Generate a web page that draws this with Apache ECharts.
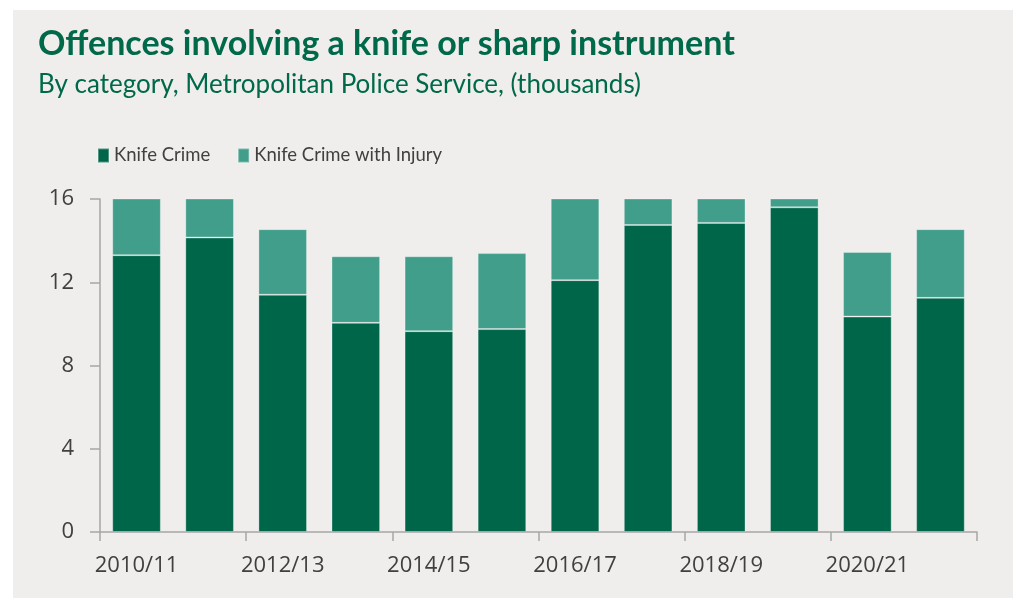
<!DOCTYPE html>
<html>
<head>
<meta charset="utf-8">
<style>
  html, body { margin: 0; padding: 0; background: #ffffff; }
  #chart { width: 1016px; height: 598px; }
</style>
<script src="https://cdn.jsdelivr.net/npm/echarts@6/dist/echarts.min.js"></script>
</head>
<body>
<div id="chart"></div>
<script>
// Financial years
const categories = ['2010/11', '2011/12', '2012/13', '2013/14', '2014/15', '2015/16',
                    '2016/17', '2017/18', '2018/19', '2019/20', '2020/21', '2021/22'];
// Offences, thousands
const knifeCrime = [13.3, 14.15, 11.4, 10.05, 9.65, 9.75, 12.1, 14.75, 14.85, 15.6, 10.35, 11.25];
const knifeCrimeInjury = [4.3, 4.2, 3.15, 3.2, 3.6, 3.65, 4.4, 4.5, 4.6, 4.4, 3.1, 3.3];
const yTicks = [0, 4, 8, 12, 16];

const DARK = '#00664a';
const TEAL = '#409e8a';
const TEXT = '#404040';
const AXIS = '#a6a6a6';

const chart = echarts.init(document.getElementById('chart'), null, { renderer: 'canvas' });

chart.setOption({
  backgroundColor: '#ffffff',
  animation: false,
  graphic: [
    { type: 'rect', z: -10, silent: true,
      shape: { x: 13, y: 10, width: 1000, height: 588 },
      style: { fill: '#efeeec' } },
    { type: 'text', left: 38, top: 27,
      style: { text: 'Offences involving a knife or sharp instrument',
               font: 'bold 34px Lato', fill: '#00694a' } },
    { type: 'text', left: 38, top: 72,
      style: { text: 'By category, Metropolitan Police Service, (thousands)',
               font: '26px Lato', fill: '#00694a' } }
  ],
  legend: {
    left: 92, top: 141,
    itemWidth: 11, itemHeight: 14, itemGap: 27,
    icon: 'rect',
    textStyle: { fontFamily: 'Lato', fontSize: 18.5, color: TEXT },
    data: ['Knife Crime', 'Knife Crime with Injury']
  },
  grid: { left: 100, right: 39, top: 199, bottom: 66, containLabel: false },
  xAxis: {
    type: 'category',
    data: categories,
    axisLine: { lineStyle: { color: AXIS, width: 1.5 } },
    axisTick: { show: true, length: 9, lineStyle: { color: AXIS, width: 1.5 } },
    axisLabel: { interval: 1, margin: 23, color: TEXT, fontFamily: 'Open Sans', fontSize: 22 }
  },
  yAxis: {
    type: 'value',
    min: yTicks[0], max: yTicks[yTicks.length - 1], interval: 4,
    axisLine: { show: true, lineStyle: { color: AXIS, width: 1.5 } },
    axisTick: { show: true, length: 10, lineStyle: { color: AXIS, width: 1.5 } },
    splitLine: { show: false },
    axisLabel: { margin: 26, color: TEXT, fontFamily: 'Open Sans', fontSize: 22 }
  },
  series: [
    { name: 'Knife Crime', type: 'bar', stack: 'total', data: knifeCrime,
      barCategoryGap: '33.5%', clip: true,
      itemStyle: { color: DARK, borderColor: 'rgba(255,255,255,0.3)', borderWidth: 1 } },
    { name: 'Knife Crime with Injury', type: 'bar', stack: 'total', data: knifeCrimeInjury,
      barCategoryGap: '33.5%', clip: true,
      itemStyle: { color: TEAL, borderColor: 'rgba(255,255,255,0.3)', borderWidth: 1 } }
  ]
});
</script>
</body>
</html>
